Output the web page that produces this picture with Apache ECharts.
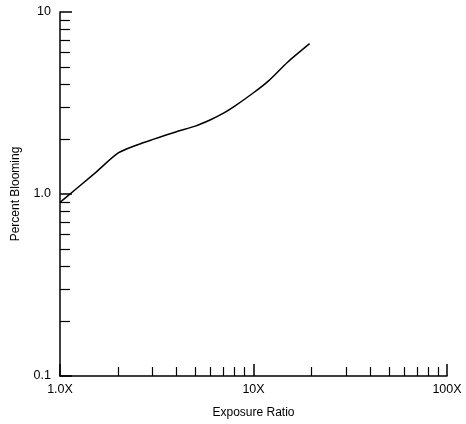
<!DOCTYPE html>
<html>
<head>
<meta charset="utf-8">
<script src="https://cdn.jsdelivr.net/npm/echarts@6/dist/echarts.min.js"></script>
<style>
  html, body { margin: 0; padding: 0; background: #fff; }
  #chart { width: 466px; height: 424px; }
</style>
</head>
<body>
<div id="chart"></div>
<script>
// exposure ratio (x) vs percent blooming (y)
const exposure = [1, 1.5, 2, 2.5, 3, 4, 5, 6, 7, 8, 10, 12, 15, 19.5]
const blooming = [0.9, 1.29, 1.68, 1.86, 1.99, 2.2, 2.36, 2.56, 2.78, 3.04, 3.6, 4.2, 5.3, 6.7]

const xMajor = [1, 10, 100]
const xMinor = [2, 3, 4, 5, 6, 7, 8, 9, 20, 30, 40, 50, 60, 70, 80, 90]
const xLabels = ['1.0X', '10X', '100X']
const yMajor = [0.1, 1, 10]
const yMinor = [0.2, 0.3, 0.4, 0.5, 0.6, 0.7, 0.8, 0.9, 2, 3, 4, 5, 6, 7, 8, 9]
const yLabels = ['0.1', '1.0', '10']

const font = 'Liberation Sans'

const chart = echarts.init(document.getElementById('chart'))

const labelOf = (vals, labels) => v => {
  const i = vals.findIndex(m => Math.abs(m - v) < 1e-9)
  return i >= 0 ? labels[i] : ''
}

chart.setOption({
  animation: false,
  grid: { left: 60, right: 19, top: 12, bottom: 42 },
  xAxis: [
    {
      type: 'log', logBase: 10, min: 1, max: 100,
      name: 'Exposure Ratio', nameLocation: 'middle', nameGap: 31,
      nameTextStyle: { color: '#000', fontFamily: font, fontSize: 12 },
      axisLine: { lineStyle: { color: '#000', width: 1.5 } },
      axisTick: { inside: true, length: 9, customValues: xMinor, lineStyle: { color: '#000', width: 1.2 } },
      axisLabel: { show: false },
      splitLine: { show: false }
    },
    {
      type: 'log', logBase: 10, min: 1, max: 100, position: 'bottom',
      axisLine: { show: false },
      axisTick: { inside: true, length: 12, customValues: xMajor, lineStyle: { color: '#000', width: 1.5 } },
      axisLabel: {
        customValues: xMajor, margin: 7, color: '#000', fontFamily: font, fontSize: 12.5,
        formatter: labelOf(xMajor, xLabels)
      },
      splitLine: { show: false }
    }
  ],
  yAxis: [
    {
      type: 'log', logBase: 10, min: 0.1, max: 10,
      name: 'Percent Blooming', nameLocation: 'middle', nameGap: 38,
      nameTextStyle: { color: '#000', fontFamily: font, fontSize: 12 },
      axisLine: { lineStyle: { color: '#000', width: 1.5 } },
      axisTick: { inside: true, length: 10, customValues: yMinor, lineStyle: { color: '#000', width: 1.2 } },
      axisLabel: { show: false },
      splitLine: { show: false }
    },
    {
      type: 'log', logBase: 10, min: 0.1, max: 10, position: 'left',
      axisLine: { show: false },
      axisTick: { inside: true, length: 12, customValues: yMajor, lineStyle: { color: '#000', width: 1.5 } },
      axisLabel: {
        customValues: yMajor, margin: 9, color: '#000', fontFamily: font, fontSize: 12.5,
        formatter: labelOf(yMajor, yLabels)
      },
      splitLine: { show: false }
    }
  ],
  series: [
    {
      type: 'line',
      data: exposure.map((x, i) => [x, blooming[i]]),
      smooth: 0.25,
      showSymbol: false,
      lineStyle: { color: '#000', width: 1.5 }
    }
  ]
})
</script>
</body>
</html>
